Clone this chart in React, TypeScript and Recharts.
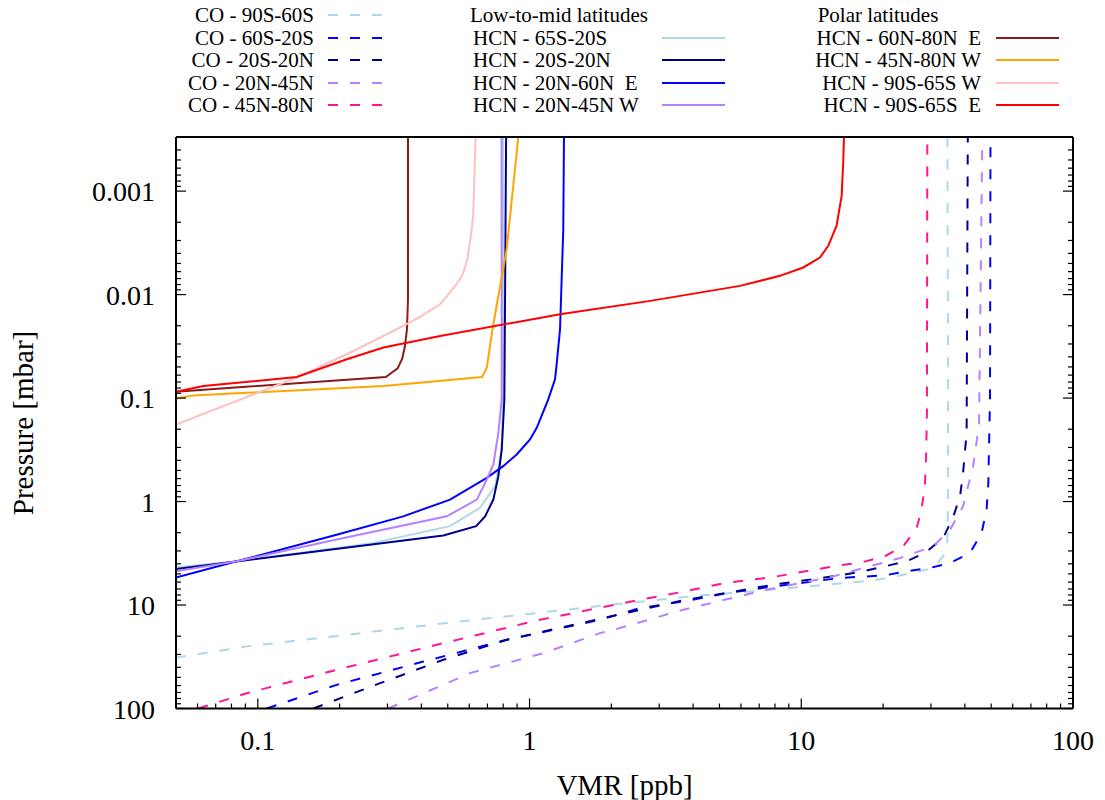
import React from "react";
import { LineChart, Line, XAxis, YAxis } from "recharts";

// profiles: x = VMR [ppb], p = pressure [mbar]
const co90S60S = [
  { x: 0.05, p: 32.2 }, { x: 0.0911, p: 25.1 }, { x: 0.19, p: 20.1 }, { x: 0.496, p: 14.9 },
  { x: 1.063, p: 11.95 }, { x: 2.15, p: 9.71 }, { x: 3.9, p: 8.26 }, { x: 5.62, p: 7.65 },
  { x: 8.35, p: 7.0 }, { x: 12.4, p: 6.36 }, { x: 18.4, p: 5.78 }, { x: 25.8, p: 4.9 },
  { x: 30.6, p: 4.38 }, { x: 33.3, p: 3.38 }, { x: 34.3, p: 2.71 }, { x: 34.6, p: 2.01 },
  { x: 34.7, p: 0.103 }, { x: 34.5, p: 0.0003 },
];
const co60S20S = [
  { x: 0.108, p: 100 }, { x: 0.195, p: 59.1 }, { x: 0.407, p: 35.2 }, { x: 0.824, p: 21.7 },
  { x: 1.816, p: 13.9 }, { x: 2.55, p: 10.7 }, { x: 3.68, p: 9.23 }, { x: 5.39, p: 7.65 },
  { x: 7.89, p: 6.61 }, { x: 13.9, p: 5.48 }, { x: 20.3, p: 5.17 }, { x: 24.4, p: 4.73 },
  { x: 29.8, p: 4.38 }, { x: 35.3, p: 3.92 }, { x: 41.8, p: 3.14 }, { x: 46.1, p: 2.01 },
  { x: 48.1, p: 1.195 }, { x: 48.8, p: 0.659 }, { x: 49.2, p: 0.216 }, { x: 49.5, p: 0.103 },
  { x: 49.7, p: 0.0003 },
];
const co20S20N = [
  { x: 0.16, p: 100 }, { x: 0.282, p: 56.9 }, { x: 0.482, p: 33.8 }, { x: 0.824, p: 21.7 },
  { x: 1.816, p: 13.6 }, { x: 3.68, p: 9.0 }, { x: 7.89, p: 6.36 }, { x: 13.9, p: 5.17 },
  { x: 16.9, p: 4.73 }, { x: 20.3, p: 4.23 }, { x: 24.4, p: 3.78 }, { x: 28.5, p: 3.14 },
  { x: 33.3, p: 2.25 }, { x: 36.3, p: 1.39 }, { x: 38.4, p: 0.889 }, { x: 39.4, p: 0.527 },
  { x: 40.6, p: 0.216 }, { x: 41.0, p: 0.0003 },
];
const co20N45N = [
  { x: 0.302, p: 100 }, { x: 0.604, p: 45.5 }, { x: 1.124, p: 29.2 }, { x: 1.816, p: 18.7 },
  { x: 2.15, p: 16.7 }, { x: 3.68, p: 11.1 }, { x: 7.46, p: 7.11 }, { x: 13.1, p: 5.29 },
  { x: 23.1, p: 3.51 }, { x: 30.6, p: 2.71 }, { x: 35.3, p: 1.87 }, { x: 39.4, p: 1.11 },
  { x: 42.9, p: 0.455 }, { x: 45.1, p: 0.18 }, { x: 46.3, p: 0.00044 }, { x: 46.4, p: 0.0003 },
];
const co45N80N = [
  { x: 0.0604, p: 100 }, { x: 0.0911, p: 71.1 }, { x: 0.195, p: 42.3 }, { x: 0.456, p: 24.2 },
  { x: 1.063, p: 14.1 }, { x: 2.15, p: 9.71 }, { x: 3.73, p: 7.38 }, { x: 5.24, p: 6.12 },
  { x: 7.89, p: 5.36 }, { x: 13.1, p: 4.23 }, { x: 16.9, p: 3.84 }, { x: 20.3, p: 3.38 },
  { x: 23.7, p: 2.71 }, { x: 26.6, p: 1.8 }, { x: 27.7, p: 1.195 }, { x: 28.5, p: 0.711 },
  { x: 28.8, p: 0.364 }, { x: 29.0, p: 0.138 }, { x: 29.1, p: 0.0003 },
];

const hcn65S20S = [
  { x: 0.05, p: 4.33 }, { x: 0.0837, p: 3.78 }, { x: 0.259, p: 2.55 }, { x: 0.51, p: 1.73 },
  { x: 0.657, p: 1.15 }, { x: 0.747, p: 0.711 }, { x: 0.79, p: 0.314 }, { x: 0.8, p: 0.103 },
  { x: 0.8, p: 0.0003 },
];
const hcn20S20N = [
  { x: 0.05, p: 4.48 }, { x: 0.482, p: 2.13 }, { x: 0.636, p: 1.73 }, { x: 0.686, p: 1.39 },
  { x: 0.736, p: 0.957 }, { x: 0.768, p: 0.569 }, { x: 0.79, p: 0.314 }, { x: 0.808, p: 0.103 },
  { x: 0.82, p: 0.0003 },
];
const hcn20N60NE = [
  { x: 0.05, p: 5.41 }, { x: 0.0837, p: 3.78 }, { x: 0.195, p: 2.09 }, { x: 0.343, p: 1.39 },
  { x: 0.51, p: 0.957 }, { x: 0.696, p: 0.59 }, { x: 0.8, p: 0.455 }, { x: 0.897, p: 0.351 },
  { x: 1.004, p: 0.251 }, { x: 1.063, p: 0.194 }, { x: 1.172, p: 0.103 }, { x: 1.241, p: 0.0659 },
  { x: 1.26, p: 0.0454 }, { x: 1.295, p: 0.0216 }, { x: 1.331, p: 0.00233 }, { x: 1.339, p: 0.0003 },
];
const hcn20N45NW = [
  { x: 0.05, p: 4.73 }, { x: 0.0837, p: 3.78 }, { x: 0.195, p: 2.33 }, { x: 0.496, p: 1.39 },
  { x: 0.64, p: 0.957 }, { x: 0.696, p: 0.612 }, { x: 0.736, p: 0.438 }, { x: 0.768, p: 0.216 },
  { x: 0.79, p: 0.103 }, { x: 0.789, p: 0.0003 },
];
const hcn60N80NE = [
  { x: 0.05, p: 0.0867 }, { x: 0.296, p: 0.0626 }, { x: 0.327, p: 0.0516 }, { x: 0.34, p: 0.0416 },
  { x: 0.348, p: 0.0314 }, { x: 0.354, p: 0.0216 }, { x: 0.357, p: 0.0111 }, { x: 0.357, p: 0.0003 },
];
const hcn45N80NW = [
  { x: 0.05, p: 0.101 }, { x: 0.058, p: 0.0942 }, { x: 0.29, p: 0.0766 }, { x: 0.669, p: 0.0626 },
  { x: 0.696, p: 0.0508 }, { x: 0.734, p: 0.0201 }, { x: 0.824, p: 0.00363 }, { x: 0.909, p: 0.0003 },
];
const hcn90S65SW = [
  { x: 0.05, p: 0.18 }, { x: 0.139, p: 0.0634 }, { x: 0.225, p: 0.0351 }, { x: 0.343, p: 0.0201 },
  { x: 0.396, p: 0.0163 }, { x: 0.469, p: 0.0124 }, { x: 0.532, p: 0.0083 }, { x: 0.555, p: 0.0071 },
  { x: 0.571, p: 0.0061 }, { x: 0.591, p: 0.00454 }, { x: 0.613, p: 0.00233 }, { x: 0.621, p: 0.0016 },
  { x: 0.633, p: 0.0003 },
];
const hcn90S65SE = [
  { x: 0.05, p: 0.0867 }, { x: 0.063, p: 0.0766 }, { x: 0.139, p: 0.0626 }, { x: 0.2126, p: 0.0422 },
  { x: 0.29, p: 0.0325 }, { x: 0.469, p: 0.0251 }, { x: 1.295, p: 0.0155 }, { x: 2.78, p: 0.0115 },
  { x: 5.95, p: 0.00824 }, { x: 8.35, p: 0.00659 }, { x: 10.17, p: 0.00547 }, { x: 11.72, p: 0.00438 },
  { x: 12.57, p: 0.00338 }, { x: 13.49, p: 0.00216 }, { x: 14.08, p: 0.00111 }, { x: 14.27, p: 0.000527 },
  { x: 14.36, p: 0.0003 },
];

const xTicks = [
  0.05, 0.06, 0.07, 0.08, 0.09, 0.1, 0.2, 0.3, 0.4, 0.5, 0.6, 0.7, 0.8, 0.9,
  1, 2, 3, 4, 5, 6, 7, 8, 9, 10, 20, 30, 40, 50, 60, 70, 80, 90, 100,
];
const xLabels = [0.1, 1, 10, 100];
const yTicks = [
  0.0004, 0.0005, 0.0006, 0.0007, 0.0008, 0.0009, 0.001, 0.002, 0.003, 0.004, 0.005, 0.006,
  0.007, 0.008, 0.009, 0.01, 0.02, 0.03, 0.04, 0.05, 0.06, 0.07, 0.08, 0.09, 0.1, 0.2, 0.3,
  0.4, 0.5, 0.6, 0.7, 0.8, 0.9, 1, 2, 3, 4, 5, 6, 7, 8, 9, 10, 20, 30, 40, 50, 60, 70, 80, 90, 100,
];
const yLabels = [0.001, 0.01, 0.1, 1, 10, 100];

type Pt = { x: number; p: number };
type Series = { name: string; data: Pt[]; color: string; dashed: boolean };

const coSeries: Series[] = [
  { name: "CO - 90S-60S", data: co90S60S, color: "#add8e6", dashed: true },
  { name: "CO - 60S-20S", data: co60S20S, color: "#0000ff", dashed: true },
  { name: "CO - 20S-20N", data: co20S20N, color: "#00008b", dashed: true },
  { name: "CO - 20N-45N", data: co20N45N, color: "#b482ff", dashed: true },
  { name: "CO - 45N-80N", data: co45N80N, color: "#ff1493", dashed: true },
];
const lowMidSeries: Series[] = [
  { name: "HCN - 65S-20S", data: hcn65S20S, color: "#add8e6", dashed: false },
  { name: "HCN - 20S-20N", data: hcn20S20N, color: "#00008b", dashed: false },
  { name: "HCN - 20N-60N  E", data: hcn20N60NE, color: "#0000ff", dashed: false },
  { name: "HCN - 20N-45N W", data: hcn20N45NW, color: "#b482ff", dashed: false },
];
const polarSeries: Series[] = [
  { name: "HCN - 60N-80N  E", data: hcn60N80NE, color: "#8b1a1a", dashed: false },
  { name: "HCN - 45N-80N W", data: hcn45N80NW, color: "#ffa500", dashed: false },
  { name: "HCN - 90S-65S W", data: hcn90S65SW, color: "#ffbfbf", dashed: false },
  { name: "HCN - 90S-65S  E", data: hcn90S65SE, color: "#ff0000", dashed: false },
];

const FONT = '"Liberation Serif", "Times New Roman", serif';
const DASH = "10 12";
const tickLine = { stroke: "#000", strokeWidth: 1.2 };
const axisLine = { stroke: "#000", strokeWidth: 2 };

function BottomTick({ x, y, payload }: any) {
  const v = payload.value;
  const major = xLabels.includes(v);
  return (
    <g>
      <line x1={x} y1={y} x2={x} y2={y - (major ? 10 : 5)} {...tickLine} />
      {major && (
        <text x={x} y={y + 41.5} textAnchor="middle" fontSize={28} fontFamily={FONT} fill="#000">
          {String(v)}
        </text>
      )}
    </g>
  );
}

function TopTick({ x, y, payload }: any) {
  const major = xLabels.includes(payload.value);
  return <line x1={x} y1={y} x2={x} y2={y + (major ? 10 : 5)} {...tickLine} />;
}

function LeftTick({ x, y, payload }: any) {
  const v = payload.value;
  const major = yLabels.includes(v);
  return (
    <g>
      <line x1={x} y1={y} x2={x + (major ? 10 : 5)} y2={y} {...tickLine} />
      {major && (
        <text x={x - 21} y={y + 10} textAnchor="end" fontSize={28} fontFamily={FONT} fill="#000">
          {String(v)}
        </text>
      )}
    </g>
  );
}

function RightTick({ x, y, payload }: any) {
  const major = yLabels.includes(payload.value);
  return <line x1={x} y1={y} x2={x - (major ? 10 : 5)} y2={y} {...tickLine} />;
}

function XTitle() {
  return (
    <text x={624.5} y={795} textAnchor="middle" fontSize={29} fontFamily={FONT} fill="#000">
      VMR [ppb]
    </text>
  );
}

function YTitle() {
  return (
    <text
      x={33}
      y={423}
      transform="rotate(-90 33 423)"
      textAnchor="middle"
      fontSize={29}
      fontFamily={FONT}
      fill="#000"
    >
      Pressure [mbar]
    </text>
  );
}

function Key() {
  const rows = [15, 38, 60, 83, 105];
  const txt = { fontSize: 21, fontFamily: FONT, fill: "#000", dy: "0.33em", style: { whiteSpace: "pre" as const } };
  return (
    <svg width={1105} height={125} style={{ position: "absolute", left: 0, top: 0, pointerEvents: "none" }}>
      {coSeries.map((s, i) => (
        <g key={s.name}>
          <text x={314} y={rows[i]} textAnchor="end" {...txt}>{s.name}</text>
          <line x1={328} x2={390} y1={rows[i]} y2={rows[i]} stroke={s.color} strokeWidth={2} strokeDasharray={DASH} />
        </g>
      ))}
      <text x={559} y={rows[0]} textAnchor="middle" {...txt}>Low-to-mid latitudes</text>
      {lowMidSeries.map((s, i) => (
        <g key={s.name}>
          <text x={473} y={rows[i + 1]} textAnchor="start" {...txt}>{s.name}</text>
          <line x1={662} x2={725} y1={rows[i + 1]} y2={rows[i + 1]} stroke={s.color} strokeWidth={2} />
        </g>
      ))}
      <text x={878} y={rows[0]} textAnchor="middle" {...txt}>Polar latitudes</text>
      {polarSeries.map((s, i) => (
        <g key={s.name}>
          <text x={981} y={rows[i + 1]} textAnchor="end" {...txt}>{s.name}</text>
          <line x1={996} x2={1059} y1={rows[i + 1]} y2={rows[i + 1]} stroke={s.color} strokeWidth={2} />
        </g>
      ))}
    </svg>
  );
}

export default function App() {
  const all = [...coSeries, ...lowMidSeries, ...polarSeries];
  return (
    <div style={{ position: "absolute", left: 0, top: 0, width: 1105, height: 800, background: "#fff" }}>
      <LineChart width={1105} height={800} margin={{ top: 136, right: 31, bottom: 31.5, left: 76 }}>
        <XAxis
          xAxisId="b"
          dataKey="x"
          type="number"
          scale="log"
          domain={[0.05, 100]}
          allowDataOverflow
          ticks={xTicks}
          interval={0}
          tickSize={0}
          tickMargin={0}
          height={60}
          axisLine={axisLine}
          tick={<BottomTick />}
          label={<XTitle />}
        />
        <XAxis
          xAxisId="t"
          orientation="top"
          type="number"
          scale="log"
          domain={[0.05, 100]}
          allowDataOverflow
          ticks={xTicks}
          interval={0}
          tickSize={0}
          tickMargin={0}
          height={1}
          axisLine={axisLine}
          tick={<TopTick />}
        />
        <YAxis
          yAxisId="l"
          type="number"
          scale="log"
          domain={[0.0003, 100]}
          reversed
          allowDataOverflow
          ticks={yTicks}
          interval={0}
          tickSize={0}
          tickMargin={0}
          width={100}
          axisLine={axisLine}
          tick={<LeftTick />}
          label={<YTitle />}
        />
        <YAxis
          yAxisId="r"
          orientation="right"
          type="number"
          scale="log"
          domain={[0.0003, 100]}
          reversed
          allowDataOverflow
          ticks={yTicks}
          interval={0}
          tickSize={0}
          tickMargin={0}
          width={1}
          axisLine={axisLine}
          tick={<RightTick />}
        />
        {all.map((s) => (
          <Line
            key={s.name}
            xAxisId="b"
            yAxisId="l"
            data={s.data}
            dataKey="p"
            type="linear"
            stroke={s.color}
            strokeWidth={2}
            strokeDasharray={s.dashed ? DASH : undefined}
            dot={false}
            activeDot={false}
            isAnimationActive={false}
          />
        ))}
      </LineChart>
      <Key />
    </div>
  );
}
